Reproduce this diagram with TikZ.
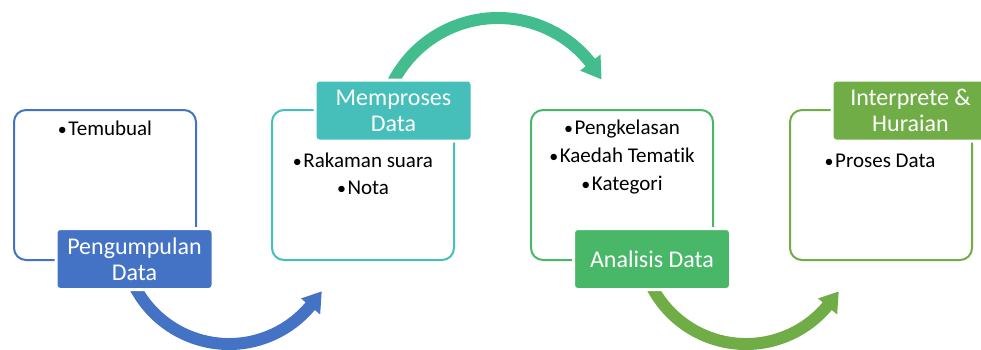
\documentclass[tikz,border=0pt]{standalone}
\usepackage{fontspec}
\setmainfont{Carlito}[Ligatures=NoCommon]
\usetikzlibrary{calc}
\definecolor{cblue}{HTML}{4472C4}
\definecolor{cteal}{HTML}{46BFBA}
\definecolor{cteal2}{HTML}{44BD8E}
\definecolor{cgreen}{HTML}{48B868}
\definecolor{cgreen2}{HTML}{70AD47}
\newcommand{\bl}{{\fontsize{18}{20}\selectfont•}\hspace{1.5pt}}
\begin{document}
\begin{tikzpicture}[x=1pt,y=-1pt,
  frame/.style={draw=#1, line width=2pt, rounded corners=12pt, inner sep=0pt,
    minimum width=182pt, minimum height=150pt},
  tag/.style={fill=#1, draw=white, line width=3pt, rounded corners=4pt, text=white,
    font=\fontsize{24}{26}\selectfont, align=center, inner sep=0pt,
    minimum width=157pt, minimum height=61pt},
  bul/.style={font=\fontsize{21}{24}\selectfont, anchor=base, inner sep=0pt},
  shaft/.style={draw=#1, line width=12pt},
  head/.style={fill=#1}
]
\useasboundingbox (0,0) rectangle (981,349);

% frames
\node[frame=cblue]   (b1) at (105,185) {};
\node[frame=cteal]   (b2) at (363,185) {};
\node[frame=cgreen]  (b3) at (622,185) {};
\node[frame=cgreen2] (b4) at (881,185) {};

% arrow centres
\coordinate (c1) at (229,238);
\coordinate (c2) at (498,136);
\coordinate (c3) at (746,238);

% arrow 1
\draw[shaft=cblue] ($(c1)+(205:106pt)$) arc[start angle=205, end angle=321, radius=106pt];
\fill[head=cblue] ($(c1)+(320:94pt)$) -- ($(c1)+(320:119pt)$) -- ($(c1)+(330:107pt)$) -- cycle;
% arrow 2
\draw[shaft=cteal2] ($(c2)+(154:118pt)$) arc[start angle=154, end angle=37.5, radius=118pt];
\fill[head=cteal2] ($(c2)+(38.5:105pt)$) -- ($(c2)+(38.5:131pt)$) -- ($(c2)+(28.7:118pt)$) -- cycle;
% arrow 3
\draw[shaft=cgreen2] ($(c3)+(205:106pt)$) arc[start angle=205, end angle=321, radius=106pt];
\fill[head=cgreen2] ($(c3)+(320:94pt)$) -- ($(c3)+(320:119pt)$) -- ($(c3)+(330:107pt)$) -- cycle;

% labels
\node[tag=cblue]   (l1) at (134.5,259) {Pengumpulan\\Data};
\node[tag=cteal]   (l2) at (393.5,110.5) {Memproses\\Data};
\node[tag=cgreen]  (l3) at (652,259) {Analisis Data};
\node[tag=cgreen2] (l4) at (910.5,110.5) {Interprete \&\\Huraian};

% bullets
\node[bul] (t1) at (105,135) {\bl Temubual};
\node[bul] (t2a) at (363,167) {\bl Rakaman suara};
\node[bul] (t2b) at (363,194) {\bl Nota};
\node[bul] (t3a) at (622,134) {\bl Pengkelasan};
\node[bul] (t3b) at (622,162) {\bl Kaedah Tematik};
\node[bul] (t3c) at (622,190) {\bl Kategori};
\node[bul] (t4) at (880,167) {\bl Proses Data};
\end{tikzpicture}
\end{document}
